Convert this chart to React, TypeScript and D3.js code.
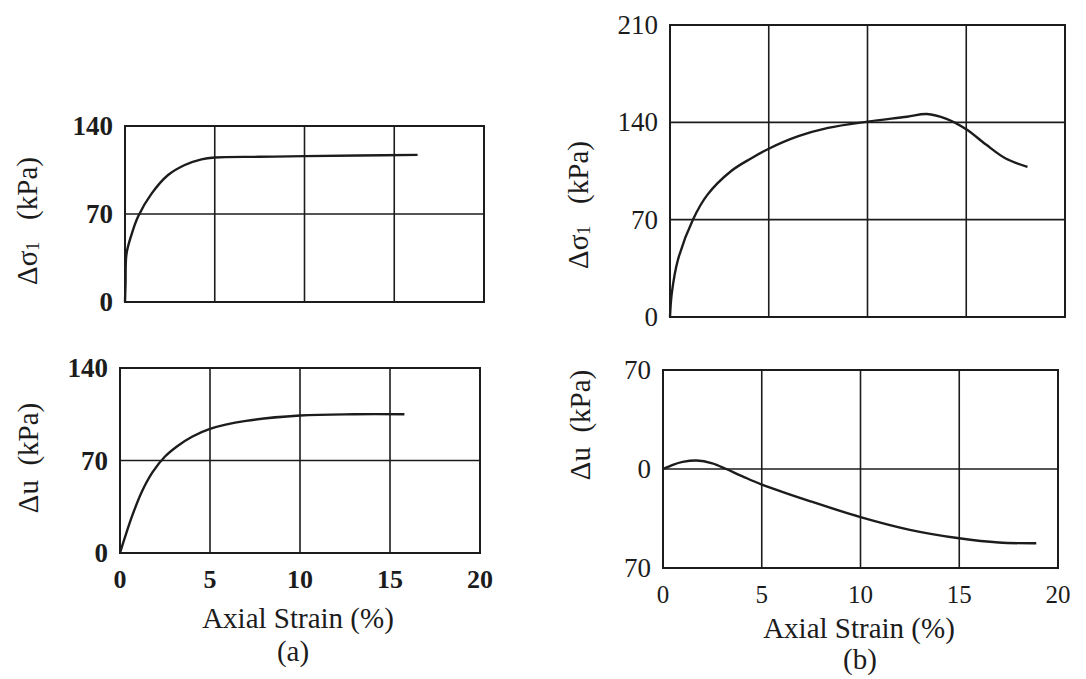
import React from "react";
import * as d3 from "d3";

// ---- Data ----
const xTicks = [0, 5, 10, 15, 20];
const xTickLabels = ["0", "5", "10", "15", "20"];

// (a) top: deviator stress
const aStressStrain = [0, 0.03, 0.08, 0.35, 0.73, 1.47, 2.4, 3.33, 4.26, 5, 7.5, 10, 13, 16.3];
const aStressValue = [0, 15, 38, 53, 68, 86, 101, 109, 113.5, 115, 115.5, 116, 116.5, 117];
const aStressTicks = [0, 70, 140];
const aStressTickLabels = ["0", "70", "140"];

// (a) bottom: pore pressure
const aPoreStrain = [0, 0.3, 0.7, 1.2, 1.8, 2.5, 3.2, 4, 5, 7, 10, 13, 15.8];
const aPoreValue = [0, 13, 29, 46, 61, 73, 81, 88, 94, 100, 104, 105, 105];
const aPoreTicks = [0, 70, 140];
const aPoreTickLabels = ["0", "70", "140"];

// (b) top: deviator stress
const bStressStrain = [0, 0.09, 0.4, 1.16, 1.9, 3.1, 4.1, 5, 6.5, 8, 10, 12, 13, 14, 15, 16, 17, 18.1];
const bStressValue = [0, 17, 41, 70, 88, 105, 114, 121, 130, 136, 140.5, 144, 146, 142.5, 135, 124, 114, 108];
const bStressTicks = [0, 70, 140, 210];
const bStressTickLabels = ["0", "70", "140", "210"];

// (b) bottom: pore pressure
const bPoreStrain = [0, 0.5, 1, 1.7, 2.5, 3.2, 4, 5, 7.5, 10, 12.5, 15, 17, 18.9];
const bPoreValue = [0, 3, 5, 6, 4, 0, -5, -11, -23, -34, -43, -49, -52, -52.5];
const bPoreTicks = [-70, 0, 70];
const bPoreTickLabels = ["70", "0", "70"];

const INK = "#1c1c1c";
const FONT = "'Liberation Serif', 'DejaVu Serif', serif";

type PanelProps = {
  left: number;
  right: number;
  top: number;
  bottom: number;
  yDomain: [number, number];
  yTicks: number[];
  yTickLabels: string[];
  xs: number[];
  ys: number[];
  showX: boolean;
  bold: boolean;
  yTickSize: number;
  xTickSize: number;
  ylabel: React.ReactNode;
  ylabelX: number;
  ylabelY: number;
};

function Panel(p: PanelProps) {
  const x = d3.scaleLinear().domain([0, 20]).range([p.left, p.right]);
  const y = d3.scaleLinear().domain(p.yDomain).range([p.bottom, p.top]);
  const pts = p.xs.map((v, i) => [v, p.ys[i]] as [number, number]);
  const line = d3
    .line<[number, number]>()
    .x((d) => x(d[0]))
    .y((d) => y(d[1]))
    .curve(d3.curveCatmullRom.alpha(0.5));
  const fw = p.bold ? "bold" : "normal";
  return (
    <g>
      {xTicks.map((t) => (
        <line key={"gx" + t} x1={x(t)} x2={x(t)} y1={p.top} y2={p.bottom} stroke={INK} strokeWidth={1.6} />
      ))}
      {p.yTicks.map((t) => (
        <line key={"gy" + t} x1={p.left} x2={p.right} y1={y(t)} y2={y(t)} stroke={INK} strokeWidth={1.6} />
      ))}
      <rect x={p.left} y={p.top} width={p.right - p.left} height={p.bottom - p.top} fill="none" stroke={INK} strokeWidth={2} />
      <path d={line(pts) || ""} fill="none" stroke={INK} strokeWidth={2.4} />
      {p.yTicks.map((t, i) => (
        <text
          key={"ly" + t}
          x={p.left - 12}
          y={y(t)}
          textAnchor="end"
          dominantBaseline="central"
          fontFamily={FONT}
          fontSize={p.yTickSize}
          fontWeight={fw}
          fill={INK}
        >
          {p.yTickLabels[i]}
        </text>
      ))}
      {p.showX &&
        xTicks.map((t, i) => (
          <text
            key={"lx" + t}
            x={x(t)}
            y={p.bottom + 26}
            textAnchor="middle"
            dominantBaseline="central"
            fontFamily={FONT}
            fontSize={p.xTickSize}
            fontWeight={fw}
            fill={INK}
          >
            {xTickLabels[i]}
          </text>
        ))}
      <text
        transform={`translate(${p.ylabelX},${p.ylabelY}) rotate(-90)`}
        textAnchor="middle"
        dominantBaseline="central"
        fontFamily={FONT}
        fontSize={29}
        fill={INK}
        style={{ whiteSpace: "pre" }}
      >
        {p.ylabel}
      </text>
    </g>
  );
}

const sigmaLabel = (
  <>
    Δσ<tspan fontSize={18} dy={6}>1</tspan>
    <tspan dy={-6}>{"   (kPa)"}</tspan>
  </>
);
const uLabel = <>{"Δu  (kPa)"}</>;

export default function App() {
  return (
    <svg
      width={1086}
      height={679}
      style={{ position: "absolute", left: 0, top: 0, background: "#fff" }}
    >
      <rect x={0} y={0} width={1086} height={679} fill="#fff" />
      <Panel
        left={125}
        right={484}
        top={126}
        bottom={302}
        yDomain={[0, 140]}
        yTicks={aStressTicks}
        yTickLabels={aStressTickLabels}
        xs={aStressStrain}
        ys={aStressValue}
        showX={false}
        bold={true}
        yTickSize={27}
        xTickSize={26}
        ylabel={sigmaLabel}
        ylabelX={27}
        ylabelY={221}
      />
      <Panel
        left={120}
        right={480}
        top={368}
        bottom={553}
        yDomain={[0, 140]}
        yTicks={aPoreTicks}
        yTickLabels={aPoreTickLabels}
        xs={aPoreStrain}
        ys={aPoreValue}
        showX={true}
        bold={true}
        yTickSize={27}
        xTickSize={26}
        ylabel={uLabel}
        ylabelX={28}
        ylabelY={458}
      />
      <Panel
        left={670}
        right={1065}
        top={25}
        bottom={317}
        yDomain={[0, 210]}
        yTicks={bStressTicks}
        yTickLabels={bStressTickLabels}
        xs={bStressStrain}
        ys={bStressValue}
        showX={false}
        bold={false}
        yTickSize={27}
        xTickSize={25}
        ylabel={sigmaLabel}
        ylabelX={578}
        ylabelY={205}
      />
      <Panel
        left={663}
        right={1058}
        top={370}
        bottom={568}
        yDomain={[-70, 70]}
        yTicks={bPoreTicks}
        yTickLabels={bPoreTickLabels}
        xs={bPoreStrain}
        ys={bPoreValue}
        showX={true}
        bold={false}
        yTickSize={27}
        xTickSize={25}
        ylabel={uLabel}
        ylabelX={580}
        ylabelY={425}
      />
      <text x={298} y={618} textAnchor="middle" dominantBaseline="central" fontFamily={FONT} fontSize={29} fill={INK}>
        Axial Strain (%)
      </text>
      <text x={293} y={651} textAnchor="middle" dominantBaseline="central" fontFamily={FONT} fontSize={29} fill={INK}>
        (a)
      </text>
      <text x={859} y={628} textAnchor="middle" dominantBaseline="central" fontFamily={FONT} fontSize={29} fill={INK}>
        Axial Strain (%)
      </text>
      <text x={860} y={659} textAnchor="middle" dominantBaseline="central" fontFamily={FONT} fontSize={29} fill={INK}>
        (b)
      </text>
    </svg>
  );
}
